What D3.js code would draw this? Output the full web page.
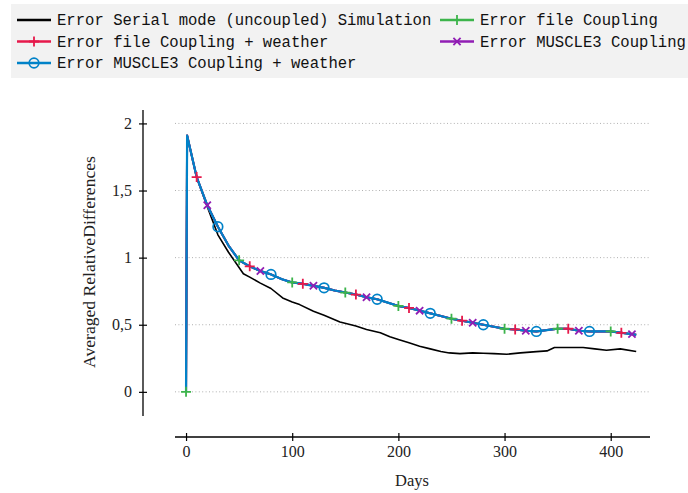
<!DOCTYPE html>
<html>
<head>
<meta charset="utf-8">
<script src="https://cdn.jsdelivr.net/npm/d3@7"></script>
<style>
  body { margin: 0; background: #fff; }
  svg { display: block; }
  .tick text { font-family: "Liberation Serif", "DejaVu Serif", serif; font-size: 16px; fill: #222; }
</style>
</head>
<body>
<script>
// days sampled for the coupled runs (markers sit on the multiples of 10)
const coupledDays = [0, 1, 10, 20, 30, 40, 50, 60, 70, 80, 90, 100, 110, 120, 130, 140, 150,
  160, 170, 180, 190, 200, 210, 220, 230, 240, 250, 260, 270, 280, 290, 300, 310, 320,
  330, 340, 350, 360, 370, 380, 390, 400, 410, 420, 424];

// the four coupled runs are practically on top of each other
const coupledError = [0, 1.91, 1.60, 1.39, 1.23, 1.09, 0.98, 0.935, 0.90, 0.875, 0.84, 0.815,
  0.805, 0.79, 0.775, 0.755, 0.74, 0.725, 0.705, 0.69, 0.665, 0.64, 0.625, 0.605, 0.585,
  0.565, 0.545, 0.53, 0.515, 0.50, 0.485, 0.47, 0.465, 0.455, 0.45, 0.46, 0.47, 0.47,
  0.455, 0.45, 0.45, 0.45, 0.44, 0.43, 0.425];

const serialDays = [0, 1, 10, 20, 30, 40, 54, 60, 70, 80, 91, 100, 107, 120, 130, 145, 160,
  170, 183, 192, 200, 210, 220, 230, 240, 248, 258, 270, 280, 290, 302, 315, 330, 340,
  347, 360, 374, 385, 396, 409, 424];

const serialError = [0, 1.91, 1.60, 1.38, 1.17, 1.04, 0.88, 0.855, 0.81, 0.77, 0.70, 0.67,
  0.65, 0.60, 0.57, 0.52, 0.49, 0.465, 0.44, 0.41, 0.39, 0.365, 0.34, 0.32, 0.30, 0.29,
  0.285, 0.29, 0.288, 0.285, 0.28, 0.29, 0.30, 0.305, 0.33, 0.33, 0.33, 0.32, 0.31, 0.32, 0.30];

const xTicks = [0, 100, 200, 300, 400];
const yTicks = [0, 0.5, 1, 1.5, 2];

const series = [
  { name: "Error Serial mode (uncoupled) Simulation", color: "#000000", mark: null, days: serialDays, values: serialError, width: 1.6 },
  { name: "Error file Coupling", color: "#3cb44b", mark: "plus", phase: 0, days: coupledDays, values: coupledError, width: 2 },
  { name: "Error file Coupling + weather", color: "#e6194b", mark: "plus", phase: 1, days: coupledDays, values: coupledError, width: 2 },
  { name: "Error MUSCLE3 Coupling", color: "#911eb4", mark: "cross", phase: 2, days: coupledDays, values: coupledError, width: 2 },
  { name: "Error MUSCLE3 Coupling + weather", color: "#0082c8", mark: "circle", phase: 3, days: coupledDays, values: coupledError, width: 2.2 }
];

const W = 688, H = 493;
let svg, x, y;

appendSvg();
setupScales();
appendGrid();
appendAxes();
appendLines();
appendMarks();
appendLegend();

function appendSvg() {
  svg = d3.select("body").append("svg").attr("width", W).attr("height", H);
}

function setupScales() {
  x = d3.scaleLinear().domain([-10.4, 437]).range([175, 650]);
  y = d3.scaleLinear().domain([-0.18, 2.1]).range([416, 110]);
}

function appendGrid() {
  svg.append("g").selectAll("line").data(yTicks).enter().append("line")
    .attr("x1", 175).attr("x2", 650)
    .attr("y1", d => y(d)).attr("y2", d => y(d))
    .attr("stroke", "#b0b0b0").attr("stroke-width", 1)
    .attr("stroke-dasharray", "1,2.4");
}

function fmt(d) { return String(d).replace(".", ","); }

function appendAxes() {
  const ya = svg.append("g").attr("transform", "translate(143,0)")
    .call(d3.axisLeft(y).tickValues(yTicks).tickFormat(fmt).tickSizeInner(4).tickSizeOuter(0).tickPadding(7));
  ya.select(".domain").attr("d", `M0,110V416`).attr("stroke-width", 1.3);
  ya.selectAll(".tick line").attr("x1", 4).attr("stroke-width", 1.2);

  const xa = svg.append("g").attr("transform", "translate(0,437)")
    .call(d3.axisBottom(x).tickValues(xTicks).tickSizeInner(4).tickSizeOuter(0).tickPadding(5));
  xa.select(".domain").attr("d", `M175,0H650`).attr("stroke-width", 1.3);
  xa.selectAll(".tick line").attr("y1", -4).attr("stroke-width", 1.2);

  svg.append("text").attr("x", 412).attr("y", 486).attr("text-anchor", "middle")
    .style("font-family", '"Liberation Serif", serif').style("font-size", "16.5px").attr("fill", "#222")
    .text("Days");
  svg.append("text").attr("transform", "translate(95,262) rotate(-90)").attr("text-anchor", "middle")
    .style("font-family", '"Liberation Serif", serif').style("font-size", "17.6px").attr("fill", "#222")
    .text("Averaged RelativeDifferences");
}

function appendLines() {
  const line = d3.line();
  series.forEach(s => {
    const pts = s.days.map((d, i) => [x(d), y(s.values[i])]);
    svg.append("path").attr("d", line(pts)).attr("fill", "none")
      .attr("stroke", s.color).attr("stroke-width", s.width).attr("stroke-linejoin", "round");
  });
}

function drawMark(g, type, color, cx, cy) {
  if (type === "plus") {
    g.append("path").attr("d", `M${cx - 5},${cy}H${cx + 5}M${cx},${cy - 5}V${cy + 5}`)
      .attr("stroke", color).attr("stroke-width", 1.8).attr("fill", "none");
  } else if (type === "cross") {
    g.append("path").attr("d", `M${cx - 3.6},${cy - 3.6}L${cx + 3.6},${cy + 3.6}M${cx - 3.6},${cy + 3.6}L${cx + 3.6},${cy - 3.6}`)
      .attr("stroke", color).attr("stroke-width", 1.8).attr("fill", "none");
  } else if (type === "circle") {
    g.append("circle").attr("cx", cx).attr("cy", cy).attr("r", 4.8)
      .attr("stroke", color).attr("stroke-width", 1.7).attr("fill", "none");
  }
}

function appendMarks() {
  const g = svg.append("g");
  series.filter(s => s.mark).forEach(s => {
    s.days.forEach((d, i) => {
      if (d % 10 === 0 && (d / 10) % 5 === s.phase) {
        drawMark(g, s.mark, s.color, x(d), y(s.values[i]));
      }
    });
  });
}

function appendLegend() {
  const lg = svg.append("g");
  lg.append("rect").attr("x", 11).attr("y", 4).attr("width", 690).attr("height", 74).attr("fill", "#f2f2f2");
  const pos = [[17, 20], [440, 20], [17, 41.5], [440, 41.5], [17, 63]];
  series.forEach((s, i) => {
    const [px, py] = pos[i];
    lg.append("line").attr("x1", px).attr("x2", px + 34).attr("y1", py).attr("y2", py)
      .attr("stroke", s.color).attr("stroke-width", s.mark ? 2.4 : 2.6);
    if (s.mark) drawMark(lg, s.mark, s.color, px + 17, py);
    lg.append("text").attr("x", px + 40).attr("y", py + 5)
      .style("font-family", '"Liberation Mono", "DejaVu Sans Mono", monospace').style("font-size", "15.6px")
      .attr("fill", "#111").text(s.name);
  });
}
</script>
</body>
</html>
